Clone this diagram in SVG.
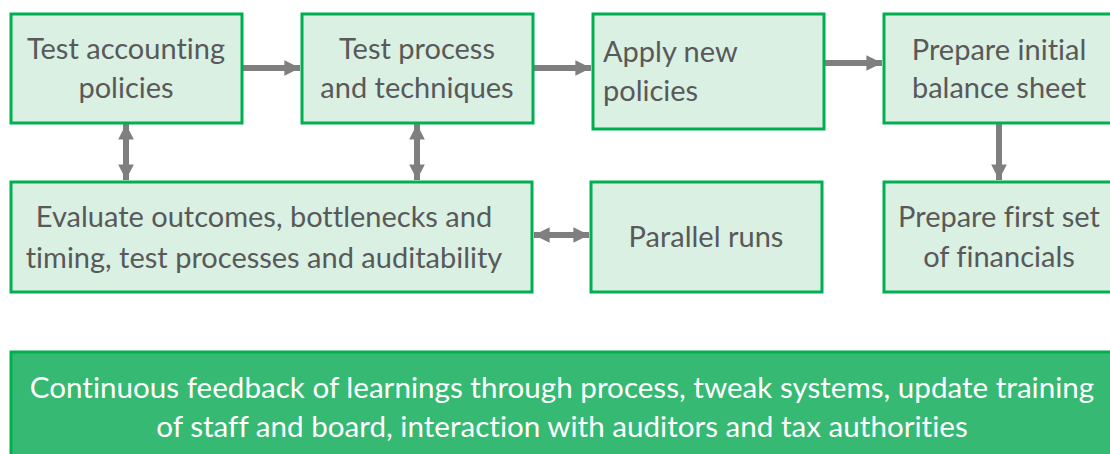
<svg xmlns="http://www.w3.org/2000/svg" width="1110" height="454" viewBox="0 0 1110 454">
  <style>
    .box { fill: #d9f0e3; stroke: #00b050; stroke-width: 3; }
    .bar { fill: #36b972; stroke: #00b050; stroke-width: 3; }
    text { font-variant-ligatures: none; }
    .lbl { font-family: Lato, "Liberation Sans", sans-serif; font-size: 29px; fill: #595959; }
    .mid { text-anchor: middle; }
    .bar-lbl { font-family: Lato, "Liberation Sans", sans-serif; font-size: 29.6px; fill: #ffffff; text-anchor: middle; }
    .link { stroke: #7f7f7f; stroke-width: 6; fill: none; }
  </style>
  <defs>
    <marker id="head" viewBox="0 0 10 10" refX="10" refY="5" markerWidth="2.6" markerHeight="2.6" orient="auto-start-reverse" markerUnits="strokeWidth">
      <path d="M0,0 L10,5 L0,10 z" fill="#7f7f7f"/>
    </marker>
  </defs>

  <rect width="1110" height="454" fill="#ffffff"/>

  <g id="connectors">
    <line class="link" x1="243" y1="68" x2="300" y2="68" marker-end="url(#head)"/>
    <line class="link" x1="534" y1="68" x2="591" y2="68" marker-end="url(#head)"/>
    <line class="link" x1="825" y1="63" x2="882" y2="63" marker-end="url(#head)"/>
    <line class="link" x1="999" y1="124" x2="999" y2="180" marker-end="url(#head)"/>
    <line class="link" x1="126" y1="124" x2="126" y2="180" marker-start="url(#head)" marker-end="url(#head)"/>
    <line class="link" x1="417" y1="124" x2="417" y2="180" marker-start="url(#head)" marker-end="url(#head)"/>
    <line class="link" x1="534" y1="235" x2="589" y2="235" marker-start="url(#head)" marker-end="url(#head)"/>
  </g>

  <g id="test-accounting">
    <rect class="box" x="11" y="14" width="231" height="109"/>
    <text class="lbl mid" x="126" y="59">Test accounting</text>
    <text class="lbl mid" x="126" y="98">policies</text>
  </g>

  <g id="test-process">
    <rect class="box" x="302" y="14" width="231" height="109"/>
    <text class="lbl mid" x="417" y="59">Test process</text>
    <text class="lbl mid" x="417" y="98">and techniques</text>
  </g>

  <g id="apply-policies">
    <rect class="box" x="593" y="14" width="231" height="115"/>
    <text class="lbl" x="603" y="62">Apply new</text>
    <text class="lbl" x="603" y="101">policies</text>
  </g>

  <g id="initial-balance">
    <rect class="box" x="884" y="14" width="232" height="109"/>
    <text class="lbl mid" x="999" y="60">Prepare initial</text>
    <text class="lbl mid" x="999" y="98">balance sheet</text>
  </g>

  <g id="evaluate">
    <rect class="box" x="11" y="182" width="521" height="110"/>
    <text class="lbl mid" x="264" y="227">Evaluate outcomes, bottlenecks and</text>
    <text class="lbl mid" x="264" y="268">timing, test processes and auditability</text>
  </g>

  <g id="parallel-runs">
    <rect class="box" x="591" y="182" width="231" height="110"/>
    <text class="lbl mid" x="706" y="247">Parallel runs</text>
  </g>

  <g id="first-financials">
    <rect class="box" x="884" y="182" width="232" height="110"/>
    <text class="lbl mid" x="999" y="227">Prepare first set</text>
    <text class="lbl mid" x="999" y="267">of financials</text>
  </g>

  <g id="feedback">
    <rect class="bar" x="11" y="352" width="1110" height="110"/>
    <text class="bar-lbl" x="562" y="398">Continuous feedback of learnings through process, tweak systems, update training</text>
    <text class="bar-lbl" x="562" y="437">of staff and board, interaction with auditors and tax authorities</text>
  </g>
</svg>
